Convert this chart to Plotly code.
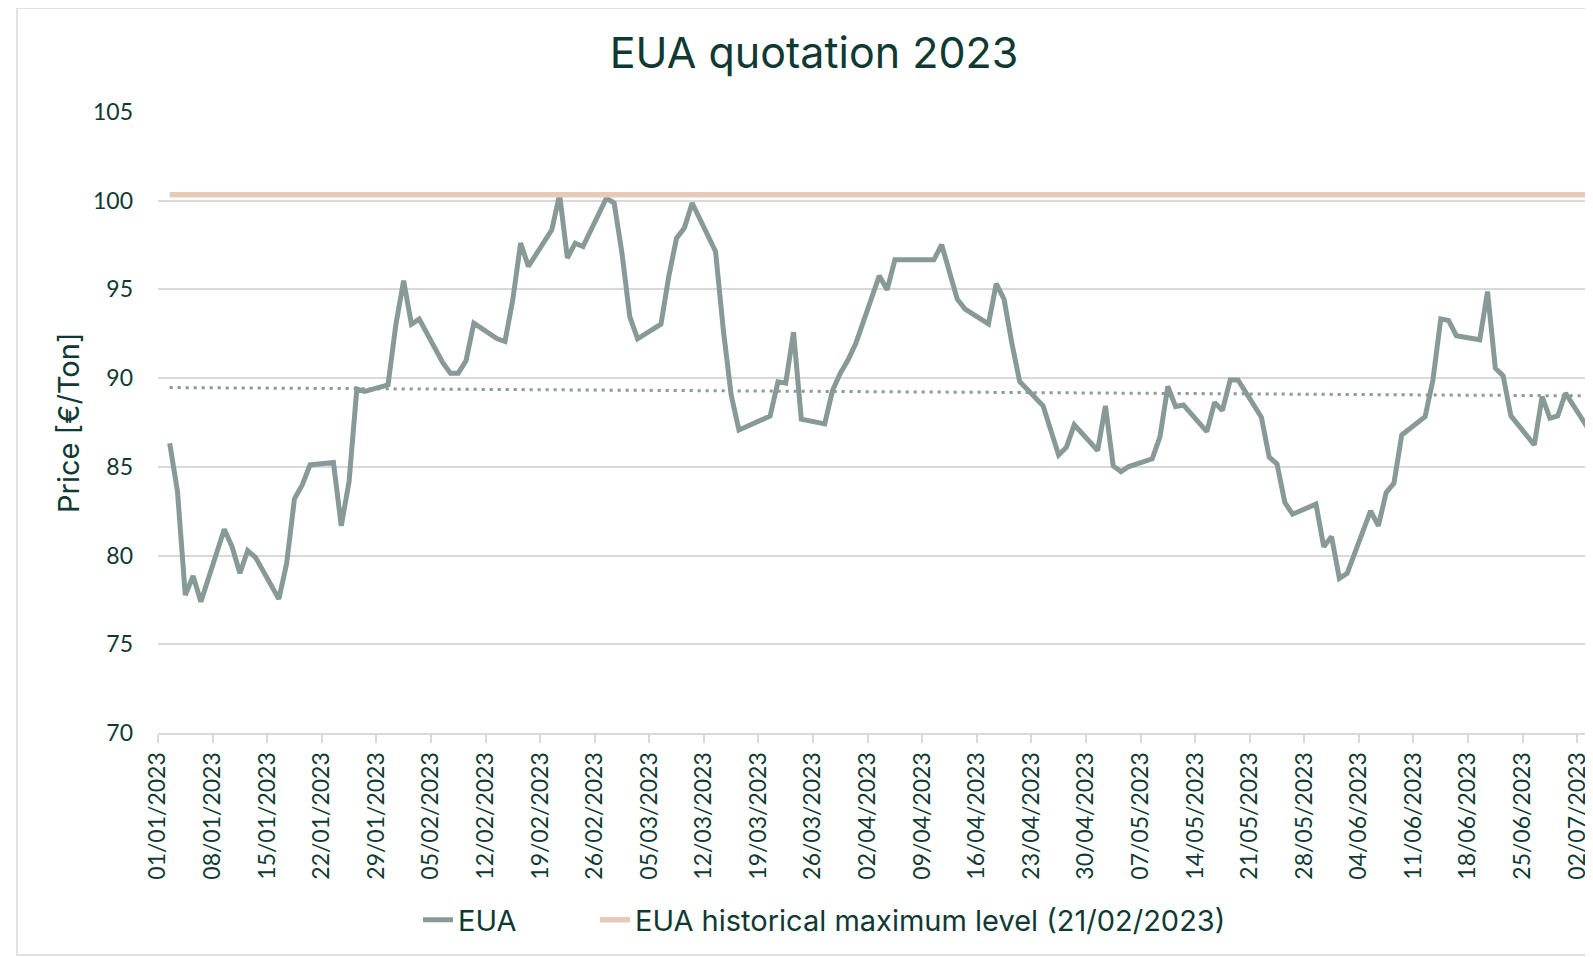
import pandas as pd
import plotly.graph_objects as go

# ---------------- data ----------------
dates = [
    "2023-01-02", "2023-01-03", "2023-01-04", "2023-01-05", "2023-01-06",
    "2023-01-09", "2023-01-10", "2023-01-11", "2023-01-12", "2023-01-13",
    "2023-01-16", "2023-01-17", "2023-01-18", "2023-01-19", "2023-01-20",
    "2023-01-23", "2023-01-24", "2023-01-25", "2023-01-26", "2023-01-27",
    "2023-01-30", "2023-01-31", "2023-02-01", "2023-02-02", "2023-02-03",
    "2023-02-06", "2023-02-07", "2023-02-08", "2023-02-09", "2023-02-10",
    "2023-02-13", "2023-02-14", "2023-02-15", "2023-02-16", "2023-02-17",
    "2023-02-20", "2023-02-21", "2023-02-22", "2023-02-23", "2023-02-24",
    "2023-02-27", "2023-02-28", "2023-03-01", "2023-03-02", "2023-03-03",
    "2023-03-06", "2023-03-07", "2023-03-08", "2023-03-09", "2023-03-10",
    "2023-03-13", "2023-03-14", "2023-03-15", "2023-03-16", "2023-03-17",
    "2023-03-20", "2023-03-21", "2023-03-22", "2023-03-23", "2023-03-24",
    "2023-03-27", "2023-03-28", "2023-03-29", "2023-03-30", "2023-03-31",
    "2023-04-03", "2023-04-04", "2023-04-05", "2023-04-06", "2023-04-07",
    "2023-04-10", "2023-04-11", "2023-04-12", "2023-04-13", "2023-04-14",
    "2023-04-17", "2023-04-18", "2023-04-19", "2023-04-20", "2023-04-21",
    "2023-04-24", "2023-04-25", "2023-04-26", "2023-04-27", "2023-04-28",
    "2023-05-01", "2023-05-02", "2023-05-03", "2023-05-04", "2023-05-05",
    "2023-05-08", "2023-05-09", "2023-05-10", "2023-05-11", "2023-05-12",
    "2023-05-15", "2023-05-16", "2023-05-17", "2023-05-18", "2023-05-19",
    "2023-05-22", "2023-05-23", "2023-05-24", "2023-05-25", "2023-05-26",
    "2023-05-29", "2023-05-30", "2023-05-31", "2023-06-01", "2023-06-02",
    "2023-06-05", "2023-06-06", "2023-06-07", "2023-06-08", "2023-06-09",
    "2023-06-12", "2023-06-13", "2023-06-14", "2023-06-15", "2023-06-16",
    "2023-06-19", "2023-06-20", "2023-06-21", "2023-06-22", "2023-06-23",
    "2023-06-26", "2023-06-27", "2023-06-28", "2023-06-29", "2023-06-30",
    "2023-07-03",
]

eua_price = [
    86.33, 83.61, 77.78, 78.85, 77.40,
    81.48, 80.50, 79.00, 80.28, 79.90,
    77.55, 79.56, 83.20, 83.98, 85.11,
    85.24, 81.67, 84.17, 89.38, 89.25,
    89.62, 93.00, 95.49, 93.04, 93.33,
    90.88, 90.28, 90.28, 90.98, 93.10,
    92.22, 92.07, 94.42, 97.61, 96.30,
    98.36, 100.34, 96.77, 97.61, 97.42,
    100.15, 99.87, 97.05, 93.47, 92.22,
    93.04, 95.73, 97.89, 98.46, 99.87,
    97.14, 92.72, 89.06, 87.08, 87.27,
    87.87, 89.79, 89.72, 92.59, 87.69,
    87.42, 89.30, 90.28, 91.03, 91.97,
    95.77, 94.98, 96.67, 96.67, 96.67,
    96.67, 97.52, 95.92, 94.45, 93.89,
    93.06, 95.32, 94.45, 91.97, 89.81,
    88.44, 87.08, 85.67, 86.11, 87.37,
    85.92, 88.44, 85.05, 84.73, 85.02,
    85.45, 86.71, 89.53, 88.40, 88.49,
    86.99, 88.63, 88.18, 89.90, 89.90,
    87.80, 85.54, 85.17, 83.00, 82.33,
    82.90, 80.50, 81.07, 78.72, 79.00,
    82.52, 81.67, 83.55, 84.08, 86.80,
    87.83, 89.90, 93.34, 93.25, 92.39,
    92.16, 94.88, 90.56, 90.13, 87.87,
    86.24, 88.96, 87.74, 87.87, 89.15,
    87.10,
]

historical_max = 100.34          # EUA historical maximum level (21/02/2023)
trend_ends = [89.47, 89.00]      # linear trend line, first and last trading day

tick_dates = [
    "2023-01-01", "2023-01-08", "2023-01-15", "2023-01-22", "2023-01-29",
    "2023-02-05", "2023-02-12", "2023-02-19", "2023-02-26", "2023-03-05",
    "2023-03-12", "2023-03-19", "2023-03-26", "2023-04-02", "2023-04-09",
    "2023-04-16", "2023-04-23", "2023-04-30", "2023-05-07", "2023-05-14",
    "2023-05-21", "2023-05-28", "2023-06-04", "2023-06-11", "2023-06-18",
    "2023-06-25", "2023-07-02",
]
y_ticks = [70, 75, 80, 85, 90, 95, 100, 105]

# ---------------- styling ----------------
TEXT = "#0f3a33"
EUA_COL = "#889a97"
MAX_COL = "#e7c9b8"
GRID = "#d9d9d9"
HEAD_FONT = "Inter"
TICK_FONT = "Lato"

# page body adds an 8px offset; layout numbers below are in figure pixels
W, H = 1593, 957
ML, MR, MT, MB = 150, 16, 104, 232
PW, PH = W - ML - MR, H - MT - MB

# points sit in the middle of each day slot (date axis)
x_pts = pd.to_datetime(dates) + pd.Timedelta(hours=12)

fig = go.Figure()

fig.add_trace(go.Scatter(
    x=x_pts, y=eua_price, mode="lines", name="EUA",
    line=dict(color=EUA_COL, width=5), legend="legend",
))
fig.add_trace(go.Scatter(
    x=x_pts, y=[historical_max] * len(x_pts), mode="lines",
    name="EUA historical maximum level (21/02/2023)",
    line=dict(color=MAX_COL, width=5.5), legend="legend2",
))
fig.add_trace(go.Scatter(
    x=[x_pts[0], x_pts[-1]], y=trend_ends, mode="lines",
    showlegend=False, hoverinfo="skip",
    line=dict(color=EUA_COL, width=3, dash="3px,5px"),
))

legend_common = dict(
    orientation="h", xanchor="left",
    y=(PH - (912 - MT)) / PH, yanchor="middle",
    font=dict(size=29, color=TEXT, family=HEAD_FONT),
    bgcolor="rgba(0,0,0,0)",
)

fig.update_layout(
    width=W, height=H,
    paper_bgcolor="white", plot_bgcolor="white",
    margin=dict(l=ML, r=MR, t=MT, b=MB),
    font=dict(family=HEAD_FONT, color=TEXT),
    title=dict(
        text="EUA quotation 2023", x=806 / W, xanchor="center",
        y=1 - 45 / H, yanchor="middle",
        font=dict(size=43, color=TEXT, family=HEAD_FONT),
    ),
    xaxis=dict(
        type="date",
        range=["2023-01-01", "2023-07-03"],
        tickvals=pd.to_datetime(tick_dates),
        tickformat="%d/%m/%Y",
        tickangle=-90,
        tickfont=dict(size=23, color=TEXT, family=TICK_FONT),
        showgrid=False,
        showline=True, linecolor=GRID, linewidth=2,
        ticks="outside", ticklen=8, tickwidth=2, tickcolor=GRID,
        zeroline=False,
    ),
    yaxis=dict(
        range=[70, 105],
        tickvals=y_ticks,
        tickfont=dict(size=23, color=TEXT, family=TICK_FONT),
        showgrid=True, gridcolor=GRID, gridwidth=2,
        showline=False, zeroline=False,
        ticks="", ticklabelstandoff=24,
    ),
    legend=dict(x=(410 - ML) / PW, **legend_common),
    legend2=dict(x=(587 - ML) / PW, **legend_common),
    annotations=[dict(
        text="Price [€/Ton]", textangle=-90, showarrow=False,
        xref="paper", yref="paper",
        x=(60 - ML) / PW, xanchor="center",
        y=(PH - (415 - MT)) / PH, yanchor="middle",
        font=dict(size=29, color=TEXT, family=HEAD_FONT),
    )],
    shapes=[dict(
        type="rect", xref="paper", yref="paper",
        x0=(9 - ML) / PW, x1=1.05,
        y0=(PH - (947 - MT)) / PH, y1=(PH - (0 - MT)) / PH,
        line=dict(color=GRID, width=1.5), fillcolor="rgba(0,0,0,0)", layer="below",
    )],
)

fig.write_html("out.html")
